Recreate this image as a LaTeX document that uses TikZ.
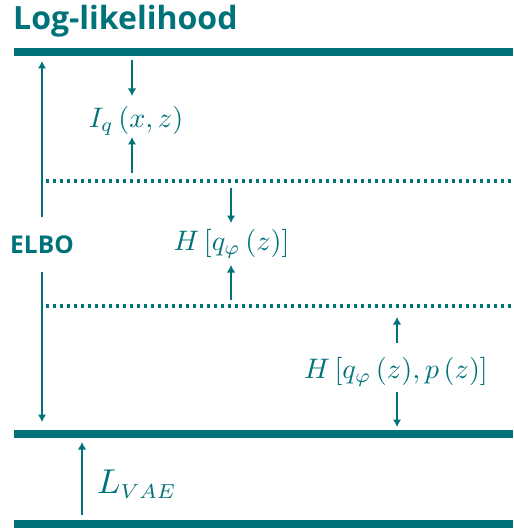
\documentclass[tikz,border=0pt]{standalone}
\usepackage[no-math]{fontspec}
\usepackage{graphicx}
\newfontfamily\headfont{Open Sans}
\usetikzlibrary{arrows.meta}
\definecolor{teal1}{RGB}{0,114,122}
\newcommand{\mylblmath}[1]{\scalebox{2.82}{$#1$}}
\begin{document}
\begin{tikzpicture}[x=1pt,y=-1pt,
  thickbar/.style={draw=teal1,line width=7.5pt},
  dotbar/.style={draw=teal1,line width=3.4pt,dash pattern=on 3.4pt off 3.6pt},
  arr/.style={draw=teal1,line width=1.8pt,-{Latex[length=7.5pt,width=8.5pt]}},
  mathlbl/.style={text=teal1,inner sep=0pt},
  headlbl/.style={text=teal1,inner sep=0pt,font=\headfont\bfseries\fontsize{32}{36}\selectfont}]
\useasboundingbox (0,0) rectangle (513,529);
% bars
\coordinate (t1) at (14,52); \coordinate (t2) at (513,52);
\coordinate (d1a) at (46,181); \coordinate (d1b) at (513,181);
\coordinate (d2a) at (46,306); \coordinate (d2b) at (513,306);
\coordinate (b1) at (14,434); \coordinate (b2) at (513,434);
\coordinate (c1) at (14,524); \coordinate (c2) at (513,524);
\draw[thickbar] (t1) -- (t2);
\draw[thickbar] (b1) -- (b2);
\draw[thickbar] (c1) -- (c2);
\draw[dotbar] (d1a) -- (d1b);
\draw[dotbar] (d2a) -- (d2b);
% title
\node[headlbl,anchor=base west] (title) at (13,30) {Log-likelihood};
% ELBO
\node[text=teal1,inner sep=0pt,font=\headfont\bfseries\fontsize{24.5}{28}\selectfont] (elbo) at (42,245) {ELBO};
\coordinate (e1) at (42,217); \coordinate (e1t) at (42,61);
\coordinate (e2) at (42,272); \coordinate (e2t) at (42,422);
\draw[arr] (e1) -- (e1t);
\draw[arr] (e2) -- (e2t);
% I_q
\node[mathlbl] (iq) at (136,121) {\mylblmath{I_q\left(x,z\right)}};
\coordinate (iq1) at (132,60); \coordinate (iq1t) at (132,96);
\coordinate (iq2) at (132,173); \coordinate (iq2t) at (132,137);
\draw[arr] (iq1) -- (iq1t);
\draw[arr] (iq2) -- (iq2t);
% H[q]
\node[mathlbl] (hq) at (231.5,244) {\mylblmath{H\left[q_\varphi\left(z\right)\right]}};
\coordinate (hq1) at (231,188); \coordinate (hq1t) at (231,223);
\coordinate (hq2) at (231,300); \coordinate (hq2t) at (231,265);
\draw[arr] (hq1) -- (hq1t);
\draw[arr] (hq2) -- (hq2t);
% H[q,p]
\node[mathlbl] (hqp) at (396,371.5) {\mylblmath{H\left[q_\varphi\,{\left(z\right)},p\left(z\right)\right]}};
\coordinate (hp1) at (397,343); \coordinate (hp1t) at (397,317);
\coordinate (hp2) at (397,392); \coordinate (hp2t) at (397,427);
\draw[arr] (hp1) -- (hp1t);
\draw[arr] (hp2) -- (hp2t);
% L_VAE
\node[text=teal1,inner sep=0pt,anchor=base west] (lvae) at (97,493) {\scalebox{3.45}{$L_{\scalebox{0.84}{$\scriptstyle VAE$}}$}};
\coordinate (lv1) at (82,515); \coordinate (lv1t) at (82,442);
\draw[arr] (lv1) -- (lv1t);
\end{tikzpicture}
\end{document}
